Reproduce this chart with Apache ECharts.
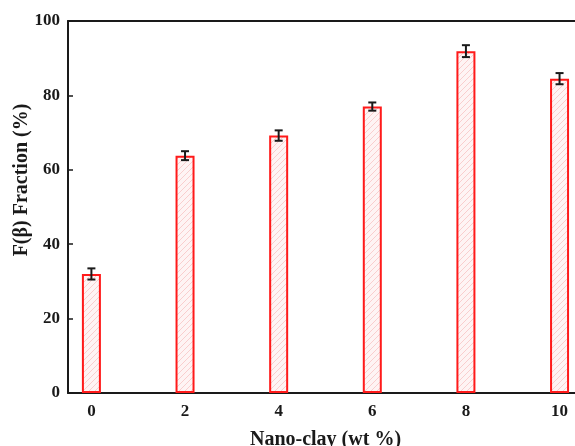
<!DOCTYPE html>
<html>
<head>
<meta charset="utf-8">
<script src="https://cdn.jsdelivr.net/npm/echarts@6/dist/echarts.min.js"></script>
<style>
  html, body { margin: 0; padding: 0; background: #fff; }
  #chart { width: 575px; height: 446px; }
</style>
</head>
<body>
<div id="chart"></div>
<script>
// Nano-clay loading (wt %) and measured β-phase fraction with its spread
const clayLoading = [0, 2, 4, 6, 8, 10];
const betaFraction = [32.0, 63.8, 69.2, 77.0, 91.9, 84.5];
const betaError = [1.5, 1.2, 1.4, 1.1, 1.6, 1.5];
const xTicks = [0, 2, 4, 6, 8, 10];

const FONT = '"Liberation Serif", "Times New Roman", serif';
const INK = '#1a1a1a';

// light pink fill with thin "/" hatching
function hatchPattern() {
  const c = document.createElement('canvas');
  c.width = 6; c.height = 6;
  const g = c.getContext('2d');
  g.fillStyle = '#fef4f4';
  g.fillRect(0, 0, 6, 6);
  g.strokeStyle = 'rgba(245,180,180,0.75)';
  g.lineWidth = 0.8;
  g.beginPath();
  g.moveTo(-1, 7); g.lineTo(7, -1);
  g.moveTo(-1, 1); g.lineTo(1, -1);
  g.moveTo(5, 7); g.lineTo(7, 5);
  g.stroke();
  return c;
}

const chart = echarts.init(document.getElementById('chart'), null, { renderer: 'canvas' });

const barData = clayLoading.map((x, i) => [x, betaFraction[i]]);
const errData = clayLoading.map((x, i) => [x, betaFraction[i] - betaError[i], betaFraction[i] + betaError[i]]);

chart.setOption({
  animation: false,
  backgroundColor: '#fff',
  grid: { left: 68, right: 0, top: 21, bottom: 53, outerBoundsMode: 'none', containLabel: false },
  xAxis: [
    {
      type: 'value', min: -0.5, max: 10.33, position: 'bottom',
      name: 'Nano-clay (wt %)', nameLocation: 'middle', nameGap: 37, nameMoveOverlap: false,
      nameTextStyle: { fontFamily: FONT, fontWeight: 'bold', fontSize: 20, color: INK, padding: [0, 0, 0, 8] },
      axisLine: { show: true, onZero: false, lineStyle: { color: INK, width: 2 } },
      axisTick: { show: true, inside: true, length: 6, lineStyle: { color: INK, width: 1.5 }, customValues: xTicks },
      axisLabel: { fontFamily: FONT, fontWeight: 'bold', fontSize: 17, color: INK, margin: 10, customValues: xTicks },
      splitLine: { show: false }
    },
    {
      // top frame line
      type: 'value', min: -0.5, max: 10.33, position: 'top',
      axisLine: { show: true, onZero: false, lineStyle: { color: INK, width: 2 } },
      axisTick: { show: false }, axisLabel: { show: false }, splitLine: { show: false }
    }
  ],
  yAxis: {
    type: 'value', min: 0, max: 100, interval: 20,
    name: 'F(β) Fraction (%)', nameLocation: 'middle', nameGap: 36, nameRotate: 90, nameMoveOverlap: false,
    nameTextStyle: { fontFamily: FONT, fontWeight: 'bold', fontSize: 20, color: INK, padding: [0, 0, 0, 54] },
    axisLine: { show: true, onZero: false, lineStyle: { color: INK, width: 2 } },
    axisTick: { show: true, inside: true, length: 5, lineStyle: { color: INK, width: 1.5 } },
    axisLabel: { fontFamily: FONT, fontWeight: 'bold', fontSize: 17, color: INK, margin: 8 },
    splitLine: { show: false }
  },
  series: [
    {
      type: 'bar',
      data: barData,
      barWidth: 19,
      itemStyle: {
        color: { image: hatchPattern(), repeat: 'repeat' },
        borderColor: '#ff1a1a',
        borderWidth: 2
      },
      z: 2
    },
    {
      type: 'custom',
      data: errData,
      z: 5,
      renderItem: function (params, api) {
        const x = api.value(0);
        const lo = api.coord([x, api.value(1)]);
        const hi = api.coord([x, api.value(2)]);
        const cap = 4;
        const style = { stroke: INK, lineWidth: 2 };
        return {
          type: 'group',
          children: [
            { type: 'line', shape: { x1: lo[0], y1: lo[1], x2: hi[0], y2: hi[1] }, style: style },
            { type: 'line', shape: { x1: lo[0] - cap, y1: lo[1], x2: lo[0] + cap, y2: lo[1] }, style: style },
            { type: 'line', shape: { x1: hi[0] - cap, y1: hi[1], x2: hi[0] + cap, y2: hi[1] }, style: style }
          ]
        };
      }
    }
  ]
});
</script>
</body>
</html>
